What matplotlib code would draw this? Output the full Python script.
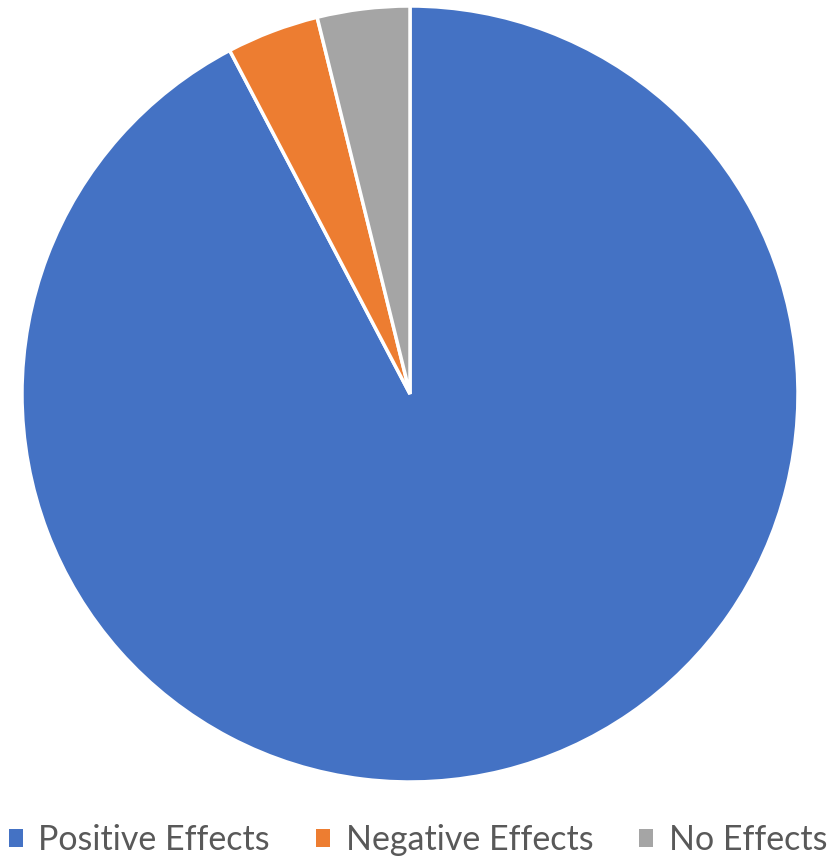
import matplotlib.pyplot as plt
from matplotlib.patches import Patch

# Data
labels = ['Positive Effects', 'Negative Effects', 'No Effects']
values = [24, 1, 1]
colors = ['#4472C4', '#ED7D31', '#A5A5A5']

plt.rcParams['font.family'] = ['Lato', 'DejaVu Sans']

fig = plt.figure(figsize=(8.36, 8.56), dpi=100)
ax = fig.add_axes([22 / 836, 74 / 856, 776 / 836, 776 / 856])

ax.pie(values, colors=colors, startangle=90, counterclock=False,
       wedgeprops=dict(edgecolor='white', linewidth=2.5))
ax.set_xlim(-1.0, 1.0)
ax.set_ylim(-1.0, 1.0)
ax.set_aspect('equal')

# legend along the bottom
handles = [Patch(facecolor=c, edgecolor='none') for c in colors]
fig.legend(handles, labels, loc='lower center', bbox_to_anchor=(0.5, -0.036),
           ncol=3, frameon=False, fontsize=24.5, labelcolor='#595959',
           handlelength=0.42, handleheight=0.42, handletextpad=0.45, columnspacing=1.35)

fig.savefig('out.png', dpi=100)
